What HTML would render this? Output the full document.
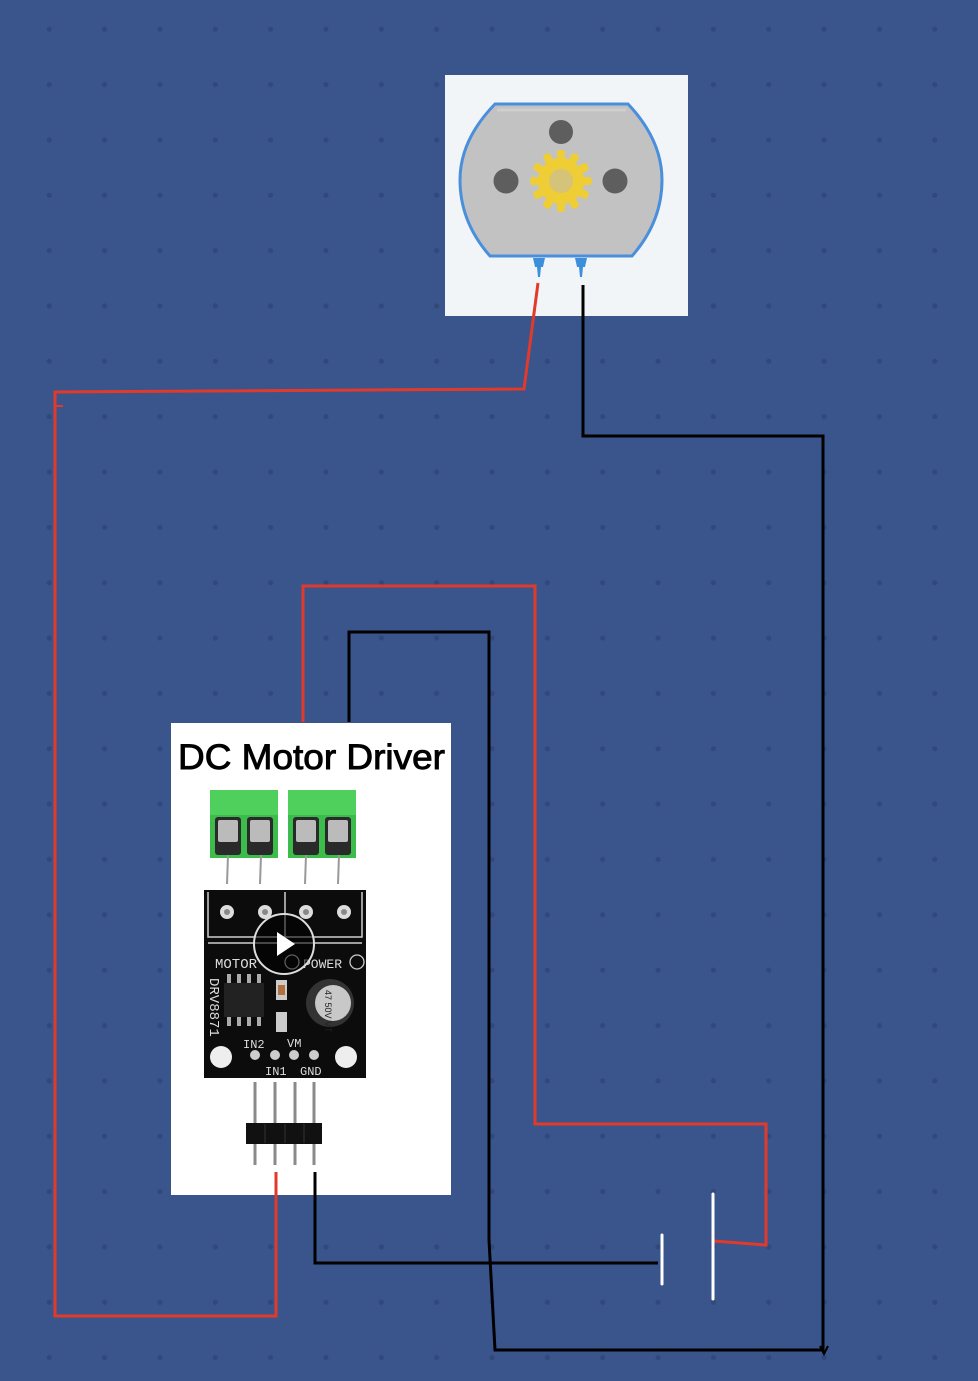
<!DOCTYPE html>
<html><head><meta charset="utf-8"><style>
html,body{margin:0;padding:0;background:#3a548c;}
svg{display:block}
</style></head><body>
<svg width="978" height="1381" viewBox="0 0 978 1381" xmlns="http://www.w3.org/2000/svg">
<defs>
<pattern id="dots" x="21.5" y="1.5" width="55.35" height="55.35" patternUnits="userSpaceOnUse">
<circle cx="27.7" cy="27.7" r="2.6" fill="#33487a"/>
</pattern>
</defs>
<rect width="978" height="1381" fill="#3a548c"/>
<rect width="978" height="1381" fill="url(#dots)"/>

<!-- Motor box -->
<rect x="445" y="75" width="243" height="241" fill="#f2f5f8"/>
<path d="M495,104 L628,104 Q662,140 662,180 Q662,222 632,256 L490,256 Q460,222 460,180 Q460,140 495,104 Z" fill="#c2c2c2" stroke="#4a8fdc" stroke-width="3"/>
<path d="M497,110 L626,110" stroke="#cfcfcf" stroke-width="3"/>
<circle cx="561" cy="132" r="12" fill="#5e5e5e"/>
<circle cx="506" cy="181" r="12.5" fill="#5e5e5e"/>
<circle cx="615" cy="181" r="12.5" fill="#5e5e5e"/>
<g transform="translate(561,181)" fill="#efcd35">
<circle r="23"/>
<g id="t"><rect x="-4" y="-31" width="8" height="12" rx="3"/></g>
<use href="#t" transform="rotate(30)"/><use href="#t" transform="rotate(60)"/><use href="#t" transform="rotate(90)"/>
<use href="#t" transform="rotate(120)"/><use href="#t" transform="rotate(150)"/><use href="#t" transform="rotate(180)"/>
<use href="#t" transform="rotate(210)"/><use href="#t" transform="rotate(240)"/><use href="#t" transform="rotate(270)"/>
<use href="#t" transform="rotate(300)"/><use href="#t" transform="rotate(330)"/>
<circle r="12" fill="#d6c37a"/>
</g>
<path d="M533,258 h12 l-2,9 h-2 l-1,10 h-2 l-1,-10 h-2 Z" fill="#3d8fdc"/>
<path d="M575,258 h12 l-2,9 h-2 l-1,10 h-2 l-1,-10 h-2 Z" fill="#3d8fdc"/>

<!-- Driver module -->
<rect x="171" y="723" width="280" height="472" fill="#ffffff"/>
<text x="178" y="769" font-family="Liberation Sans, sans-serif" font-size="35" fill="#000" stroke="#000" stroke-width="0.9" textLength="267" lengthAdjust="spacingAndGlyphs">DC Motor Driver</text>
<!-- terminal blocks -->
<g>
<rect x="210" y="790" width="68" height="68" fill="#3cbc4a"/>
<rect x="288" y="790" width="68" height="68" fill="#3cbc4a"/>
<rect x="210" y="790" width="68" height="25" fill="#4fd05c"/>
<rect x="288" y="790" width="68" height="25" fill="#4fd05c"/>
<rect x="215" y="817" width="26" height="38" rx="3" fill="#2a2a2a"/>
<rect x="247" y="817" width="26" height="38" rx="3" fill="#2a2a2a"/>
<rect x="293" y="817" width="26" height="38" rx="3" fill="#2a2a2a"/>
<rect x="325" y="817" width="26" height="38" rx="3" fill="#2a2a2a"/>
<rect x="218" y="820" width="20" height="22" rx="2" fill="#bbb"/>
<rect x="250" y="820" width="20" height="22" rx="2" fill="#bbb"/>
<rect x="296" y="820" width="20" height="22" rx="2" fill="#bbb"/>
<rect x="328" y="820" width="20" height="22" rx="2" fill="#bbb"/>
<g stroke="#999" stroke-width="2"><line x1="228" y1="855" x2="227" y2="884"/><line x1="261" y1="855" x2="260" y2="884"/><line x1="306" y1="855" x2="305" y2="884"/><line x1="339" y1="855" x2="338" y2="884"/></g>
</g>
<!-- board -->
<rect x="204" y="890" width="162" height="188" fill="#0c0c0c"/>
<g stroke="#cfcfcf" stroke-width="1.5" fill="none">
<path d="M208,892 V937 H362 V892"/><path d="M208,943 H362"/><path d="M285,892 V937"/>
</g>
<g fill="#ddd"><circle cx="227" cy="912" r="7"/><circle cx="265" cy="912" r="7"/><circle cx="306" cy="912" r="7"/><circle cx="344" cy="912" r="7"/></g>
<g fill="#888"><circle cx="227" cy="912" r="3"/><circle cx="265" cy="912" r="3"/><circle cx="306" cy="912" r="3"/><circle cx="344" cy="912" r="3"/></g>
<text x="215" y="968" font-family="Liberation Mono, monospace" font-size="14" fill="#ddd">MOTOR</text>
<text x="303" y="968" font-family="Liberation Mono, monospace" font-size="13" fill="#ddd">POWER</text>
<circle cx="292" cy="962" r="7" fill="none" stroke="#ccc" stroke-width="1.3"/>
<circle cx="357" cy="962" r="7" fill="none" stroke="#ccc" stroke-width="1.3"/>
<rect x="224" y="983" width="40" height="34" fill="#222"/>
<g fill="#aaa"><rect x="227" y="974" width="4" height="9"/><rect x="237" y="974" width="4" height="9"/><rect x="247" y="974" width="4" height="9"/><rect x="257" y="974" width="4" height="9"/>
<rect x="227" y="1017" width="4" height="9"/><rect x="237" y="1017" width="4" height="9"/><rect x="247" y="1017" width="4" height="9"/><rect x="257" y="1017" width="4" height="9"/></g>
<rect x="276" y="980" width="11" height="20" fill="#ccc"/><rect x="278" y="985" width="7" height="10" fill="#b07040"/>
<rect x="276" y="1012" width="11" height="20" fill="#ccc"/>
<circle cx="330" cy="1003" r="24" fill="#333"/><circle cx="333" cy="1003" r="18" fill="#c8c8c8"/>
<text x="0" y="0" transform="translate(325,990) rotate(90)" font-family="Liberation Sans, sans-serif" font-size="9" fill="#222">47 50V VT</text>
<text x="0" y="0" transform="translate(210,978) rotate(90)" font-family="Liberation Mono, monospace" font-size="14" fill="#ddd">DRV8871</text>
<circle cx="221" cy="1057" r="11" fill="#eee"/><circle cx="346" cy="1057" r="11" fill="#eee"/>
<g fill="#ccc"><circle cx="255" cy="1055" r="5"/><circle cx="275" cy="1055" r="5"/><circle cx="294" cy="1055" r="5"/><circle cx="314" cy="1055" r="5"/></g>
<text x="243" y="1048" font-family="Liberation Mono, monospace" font-size="12" fill="#ddd">IN2</text>
<text x="287" y="1047" font-family="Liberation Mono, monospace" font-size="12" fill="#ddd">VM</text>
<text x="265" y="1075" font-family="Liberation Mono, monospace" font-size="12" fill="#ddd">IN1</text>
<text x="300" y="1075" font-family="Liberation Mono, monospace" font-size="12" fill="#ddd">GND</text>
<circle cx="284" cy="944" r="30" fill="rgba(0,0,0,0.55)" stroke="#ddd" stroke-width="2"/>
<path d="M277,932 L295,944 L277,956 Z" fill="#fff"/>
<!-- header -->
<g stroke="#8a8a8a" stroke-width="3"><line x1="255" y1="1082" x2="255" y2="1165"/><line x1="275" y1="1082" x2="275" y2="1165"/><line x1="295" y1="1082" x2="295" y2="1165"/><line x1="314" y1="1082" x2="314" y2="1165"/></g>
<rect x="246" y="1123" width="76" height="21" fill="#111"/>
<g stroke="#333" stroke-width="1"><line x1="265" y1="1124" x2="265" y2="1143"/><line x1="285" y1="1124" x2="285" y2="1143"/><line x1="304" y1="1124" x2="304" y2="1143"/></g>

<!-- wires -->
<g fill="none" stroke-width="3" stroke-linejoin="miter">
<polyline points="538,283 524,389 55,392 55,1316 276,1316 276,1172" stroke="#e23a2a"/>
<line x1="55" y1="406" x2="63" y2="406" stroke="#e23a2a" stroke-width="2"/>
<polyline points="583,285 583,436 823,436 823,1350 495,1350 489,1240 489,632 349,632 349,722" stroke="#000"/>
<polyline points="303,722 303,586 535,586 535,1124 766,1124 766,1245 713,1241" stroke="#e23a2a"/>
<polyline points="315,1172 315,1263 658,1263" stroke="#000"/>
<path d="M820,1346 L824,1354 L828,1346" stroke="#000" stroke-width="2"/>
</g>
<!-- battery -->
<line x1="662" y1="1235" x2="662" y2="1284" stroke="#fff" stroke-width="3" stroke-linecap="round"/>
<line x1="713" y1="1194" x2="713" y2="1299" stroke="#fff" stroke-width="3" stroke-linecap="round"/>
</svg>
</body></html>
